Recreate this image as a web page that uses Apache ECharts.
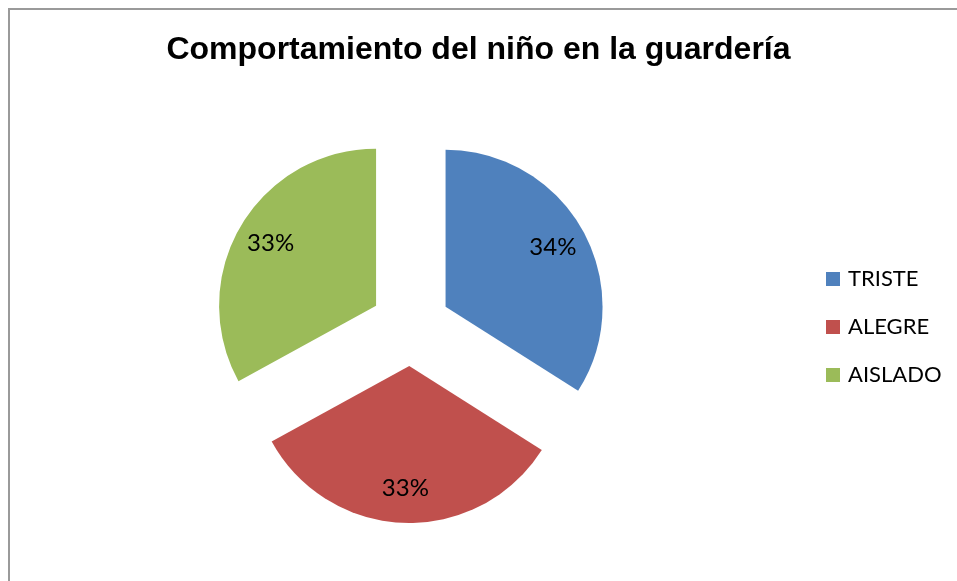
<!DOCTYPE html>
<html>
<head>
<meta charset="utf-8">
<script src="https://cdn.jsdelivr.net/npm/echarts@6/dist/echarts.min.js"></script>
<style>
  html, body { margin: 0; padding: 0; background: #fff; }
  #chart { width: 957px; height: 581px; }
</style>
</head>
<body>
<div id="chart"></div>
<script>
// data
const categories = ['TRISTE', 'ALEGRE', 'AISLADO']
const values = [34, 33, 33]
const colors = ['#4F81BD', '#C0504D', '#9BBB59']

const pieData = categories.map((name, i) => ({
  name,
  value: values[i],
  selected: true,
  itemStyle: { color: colors[i] }
}))

const chart = echarts.init(document.getElementById('chart'))
chart.setOption({
  animation: false,
  title: {
    text: 'Comportamiento del niño en la guardería',
    left: 'center',
    top: 29,
    textStyle: {
      fontFamily: 'Liberation Sans, Arial, sans-serif',
      fontWeight: 'bold',
      fontSize: 32,
      color: '#000'
    }
  },
  legend: {
    orient: 'vertical',
    left: 821,
    top: 263,
    itemWidth: 14,
    itemHeight: 14,
    itemGap: 26,
    icon: 'rect',
    data: categories,
    textStyle: {
      fontFamily: 'Lato',
      fontSize: 22,
      color: '#000',
      padding: [0, 0, 0, 3]
    }
  },
  graphic: [{
    type: 'rect',
    shape: { x: 9, y: 9, width: 1000, height: 1000 },
    style: { fill: 'none', stroke: '#9a9a9a', lineWidth: 2 },
    silent: true
  }],
  series: [
    {
      type: 'pie',
      center: [410.5, 326],
      radius: [0, 157],
      startAngle: 90,
      selectedMode: 'multiple',
      selectedOffset: 40,
      data: pieData,
      label: { show: false },
      labelLine: { show: false },
      emphasis: { disabled: true }
    },
    {
      // label ring, same slices, labels placed further out like the original
      type: 'pie',
      center: [410.5, 326],
      radius: [82, 157],
      startAngle: 90,
      selectedMode: 'multiple',
      selectedOffset: 40,
      silent: true,
      data: pieData.map(d => ({ ...d, itemStyle: { color: 'rgba(0,0,0,0)' } })),
      label: {
        show: true,
        position: 'inside',
        formatter: p => Math.round(p.percent) + '%',
        fontFamily: 'Lato',
        fontSize: 24,
        color: '#000'
      },
      labelLine: { show: false },
      emphasis: { disabled: true }
    }
  ]
})
</script>
</body>
</html>
